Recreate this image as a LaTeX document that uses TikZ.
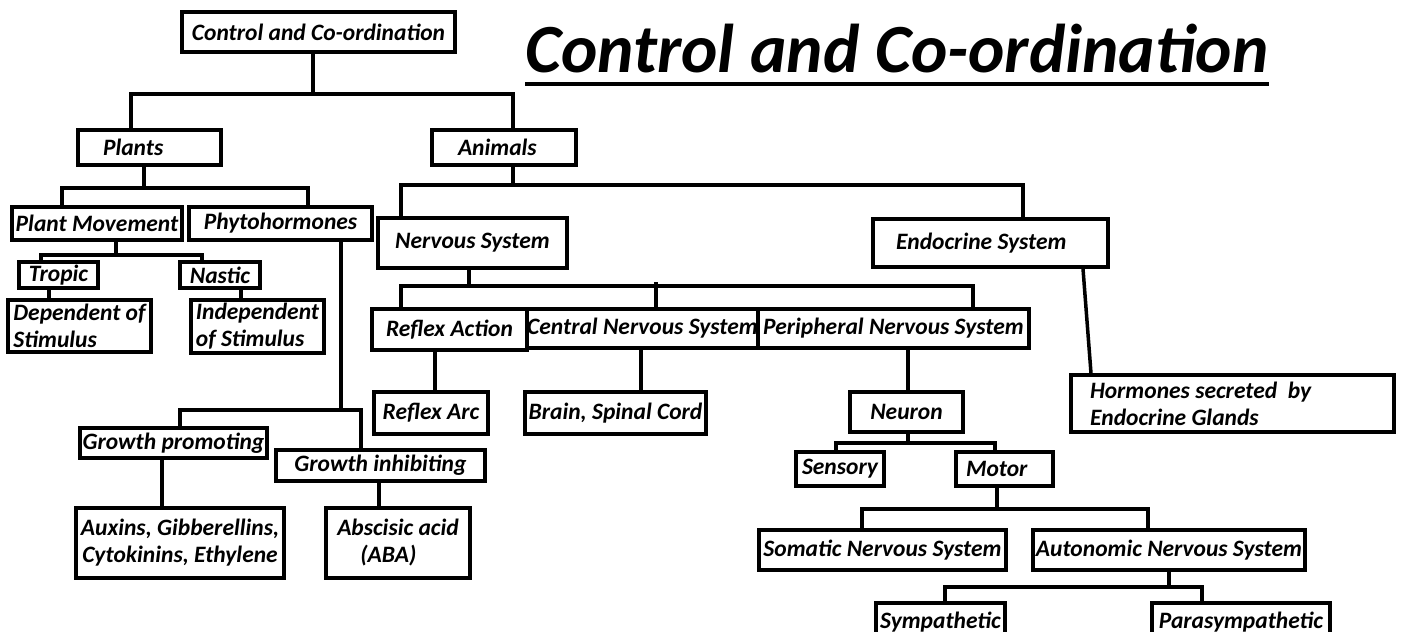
\documentclass[tikz,border=0pt]{standalone}
\usepackage{fontspec}
\setmainfont{Carlito}
\usepackage{tikz}

\begin{document}
\begin{tikzpicture}[x=1pt, y=-1pt,
    box/.style={draw, line width=3.5pt, inner sep=0pt, font=\bfseries\itshape\fontsize{23.5}{27}\selectfont},
    link/.style={line width=3.5pt}]
    \useasboundingbox (0,0) rectangle (1401,632);

    % title
    \node[inner sep=0pt, anchor=base, font=\bfseries\itshape\fontsize{69}{74}\selectfont] (title) at (897,72) {Control and Co-ordination};
    \draw [link] ([yshift=-12pt]title.base west) -- ([yshift=-12pt]title.base east);

    \node[box, minimum width=273pt, minimum height=40pt] (top) at (318.5,32) {Control and Co-ordination};

    % plants
    \node[box, text width=93pt, inner xsep=25pt, minimum height=35pt, align=flush left] (plants) at (149.5,147.5) {Plants};
    \node[box, minimum width=170pt, minimum height=33pt] (plantmove) at (97,223.5) {Plant Movement};
    \node[box, minimum width=183pt, minimum height=33pt] (phyto) at (280.5,223.5) {Phytohormones};
    \node[box, minimum width=79pt, minimum height=26pt] (tropic) at (58.5,275) {Tropic};
    \node[box, minimum width=80pt, minimum height=26pt] (nastic) at (220,275) {Nastic};
    \node[box, minimum width=143pt, minimum height=52pt, align=left] (dependent) at (79.5,326) {Dependent of\\Stimulus};
    \node[box, minimum width=133pt, minimum height=53pt, align=left] (independent) at (257.5,326.5) {Independent\\of Stimulus};
    \node[box, minimum width=187pt, minimum height=30pt] (growthp) at (173.5,443) {Growth promoting};
    \node[box, minimum width=209pt, minimum height=31pt] (growthi) at (380.5,465.5) {Growth inhibiting};
    \node[box, minimum width=208pt, minimum height=70pt, align=center] (auxins) at (180,543) {Auxins, Gibberellins,\\Cytokinins, Ethylene};
    \node[box, minimum width=144pt, minimum height=70pt, align=left] (abscisic) at (398,543) {Abscisic acid\\\hspace*{23pt}(ABA)};

    % animals
    \node[box, text width=92pt, inner xsep=26pt, minimum height=35pt, align=flush left] (animals) at (504,147.5) {Animals};
    \node[box, minimum width=189pt, minimum height=50pt] (nervous) at (472.5,243) {Nervous System};
    \node[box, text width=189pt, inner xsep=23pt, minimum height=48pt, align=flush left] (endocrine) at (990.5,243) {Endocrine System};
    \node[box, minimum width=155pt, minimum height=41pt] (reflexaction) at (449.5,329.5) {Reflex Action};
    \node[box, minimum width=231pt, minimum height=39pt] (cns) at (642.5,328.5) {Central Nervous System};
    \node[box, minimum width=271pt, minimum height=39pt] (pns) at (893.5,328.5) {Peripheral Nervous System};
    \node[box, minimum width=114pt, minimum height=42pt] (reflexarc) at (431,413) {Reflex Arc};
    \node[box, minimum width=181pt, minimum height=42pt] (brain) at (615.5,413) {Brain, Spinal Cord};
    \node[box, minimum width=113pt, minimum height=40pt] (neuron) at (906.5,412) {Neuron};
    \node[box, text width=285pt, inner xsep=19pt, minimum height=57pt, align=flush left] (hormones) at (1232.5,403.5) {Hormones secreted\ \ by\\Endocrine Glands};
    \node[box, minimum width=88pt, minimum height=34pt] (sensory) at (840,469) {Sensory};
    \node[box, text width=77pt, inner xsep=10pt, minimum height=34pt, align=flush left] (motor) at (1004.5,469) {Motor};
    \node[box, minimum width=247pt, minimum height=40pt] (somatic) at (882.5,550) {Somatic Nervous System};
    \node[box, minimum width=272pt, minimum height=40pt] (autonomic) at (1169,550) {Autonomic Nervous System};
    \node[box, minimum width=129pt, minimum height=38pt] (sympathetic) at (940.5,622) {Sympathetic};
    \node[box, minimum width=178pt, minimum height=38pt] (parasympathetic) at (1241,622) {Parasympathetic};

    % connectors
    \draw [link] ([xshift=-5.5pt]top.south) -- ++(0,40) coordinate (j0);
    \draw [link] ([xshift=-18.5pt]plants.north) |- (j0) -| ([xshift=9pt]animals.north);

    \draw [link] ([xshift=-5.5pt]plants.south) -- ++(0,21) coordinate (j1);
    \draw [link] ([xshift=-35pt]plantmove.north) |- (j1) -| ([xshift=27.5pt]phyto.north);
    \draw [link] ([xshift=19pt]plantmove.south) -- ++(0,13) coordinate (j2);
    \draw [link] ([xshift=-17.5pt]tropic.north) |- (j2) -| ([xshift=-18pt]nastic.north);
    \draw [link] ([xshift=-9.5pt]tropic.south) -- ([xshift=-30.5pt]dependent.north);
    \draw [link] ([xshift=21pt]nastic.south) -- ([xshift=-16.5pt]independent.north);
    \draw [link] ([xshift=60.5pt]phyto.south) -- ++(0,168) coordinate (j3);
    \draw [link] ([xshift=6.5pt]growthp.north) |- (j3) -| ([xshift=-19.5pt]growthi.north);
    \draw [link] ([xshift=-11.5pt]growthp.south) -- ([xshift=-18pt]auxins.north);
    \draw [link] ([xshift=-1.5pt]growthi.south) -- ([xshift=-19pt]abscisic.north);

    \draw [link] ([xshift=9pt]animals.south) -- ++(0,18) coordinate (j4);
    \draw [link] ([xshift=-71.5pt]nervous.north) |- (j4) -| ([xshift=32.5pt]endocrine.north);
    \draw [link] ([xshift=-3.5pt]nervous.south) -- ++(0,16) coordinate (j5);
    \draw [link] ([xshift=-48.5pt]reflexaction.north) |- (j5) -| ([xshift=79.5pt]pns.north);
    \draw [link] ([xshift=13.5pt]cns.north) -- ++(0,-25);
    \draw [link] ([xshift=-14.5pt]reflexaction.south) -- ([xshift=4pt]reflexarc.north);
    \draw [link] ([xshift=-1.5pt]cns.south) -- ([xshift=25.5pt]brain.north);
    \draw [link] ([xshift=14.5pt]pns.south) -- ([xshift=1.5pt]neuron.north);
    \draw [link] ([xshift=92.5pt]endocrine.south) -- ([xshift=-141.5pt]hormones.north);
    \draw [link] ([xshift=1.5pt]neuron.south) -- ++(0,9) coordinate (j6);
    \draw [link] ([xshift=-4pt]sensory.north) |- (j6) -| ([xshift=-9.5pt]motor.north);
    \draw [link] ([xshift=-7.5pt]motor.south) -- ++(0,21) coordinate (j7);
    \draw [link] ([xshift=-20.5pt]somatic.north) |- (j7) -| ([xshift=-21pt]autonomic.north);
    \draw [link] (autonomic.south) -- ++(0,15) coordinate (j8);
    \draw [link] ([xshift=4.5pt]sympathetic.north) |- (j8) -| ([xshift=-39pt]parasympathetic.north);
\end{tikzpicture}
\end{document}
